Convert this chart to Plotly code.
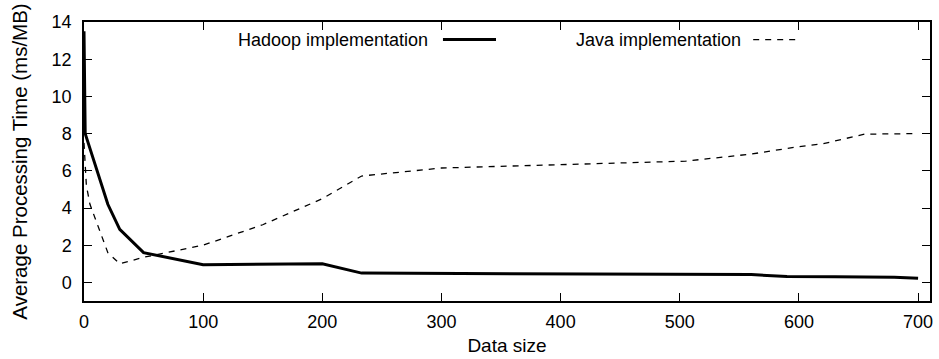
import plotly.graph_objects as go

# ---- data ----
hadoop_x = [0, 1, 20, 30, 50, 100, 200, 233, 560, 590, 630, 680, 700]
hadoop_y = [13.5, 8.0, 4.2, 2.85, 1.6, 0.95, 1.0, 0.5, 0.42, 0.32, 0.3, 0.28, 0.22]

java_x = [0, 2, 5, 20, 30, 50, 100, 150, 200, 233, 300, 400, 505, 560, 600, 620, 655, 700]
java_y = [7.5, 5.2, 4.2, 1.6, 1.0, 1.35, 2.0, 3.1, 4.5, 5.72, 6.15, 6.35, 6.52, 6.9, 7.3, 7.45, 7.97, 8.0]

x_ticks = [0, 100, 200, 300, 400, 500, 600, 700]
y_ticks = [0, 2, 4, 6, 8, 10, 12, 14]

series_names = ["Hadoop implementation", "Java implementation"]

FONT = "Liberation Sans, Arial, Helvetica, sans-serif"

fig = go.Figure()
fig.add_trace(go.Scatter(x=hadoop_x, y=hadoop_y, mode="lines", name=series_names[0],
                         line=dict(color="black", width=3), showlegend=False))
fig.add_trace(go.Scatter(x=java_x, y=java_y, mode="lines", name=series_names[1],
                         line=dict(color="black", width=1.3, dash="6px,6px"), showlegend=False))

axis_common = dict(showline=True, linecolor="black", linewidth=1.5, mirror="ticks",
                   ticks="inside", ticklen=8, tickwidth=1, tickcolor="black",
                   showgrid=False, zeroline=False, automargin=False,
                   tickfont=dict(family=FONT, size=18, color="black"))

fig.update_xaxes(range=[0, 710], tickvals=x_ticks, ticktext=[str(v) for v in x_ticks],
                 title=dict(text="Data size", font=dict(family=FONT, size=19, color="black"), standoff=7),
                 ticklabelstandoff=4, **axis_common)
fig.update_yaxes(range=[-1, 14], tickvals=y_ticks, ticktext=[str(v) for v in y_ticks],
                 title=dict(text="Average Processing Time (ms/MB)", font=dict(family=FONT, size=20.5, color="black"), standoff=18),
                 ticklabelstandoff=7, **axis_common)

# gnuplot-style key: text then sample line to its right
fig.add_annotation(x=0.409, y=0.937, xref="paper", yref="paper", text=series_names[0],
                   showarrow=False, xanchor="right", yanchor="middle",
                   font=dict(family=FONT, size=18, color="black"))
fig.add_shape(type="line", xref="paper", yref="paper", x0=0.4243, x1=0.487, y0=0.937, y1=0.937,
              line=dict(color="black", width=3))
fig.add_annotation(x=0.779, y=0.937, xref="paper", yref="paper", text=series_names[1],
                   showarrow=False, xanchor="right", yanchor="middle",
                   font=dict(family=FONT, size=18, color="black"))
fig.add_shape(type="line", xref="paper", yref="paper", x0=0.791, x1=0.845, y0=0.937, y1=0.937,
              line=dict(color="black", width=1.3, dash="6px,6px"))

fig.update_layout(width=939, height=359, margin=dict(l=84, r=9, t=22, b=58, autoexpand=False),
                  paper_bgcolor="white", plot_bgcolor="white",
                  font=dict(family=FONT, size=18, color="black"))

fig.write_html("out.html")
